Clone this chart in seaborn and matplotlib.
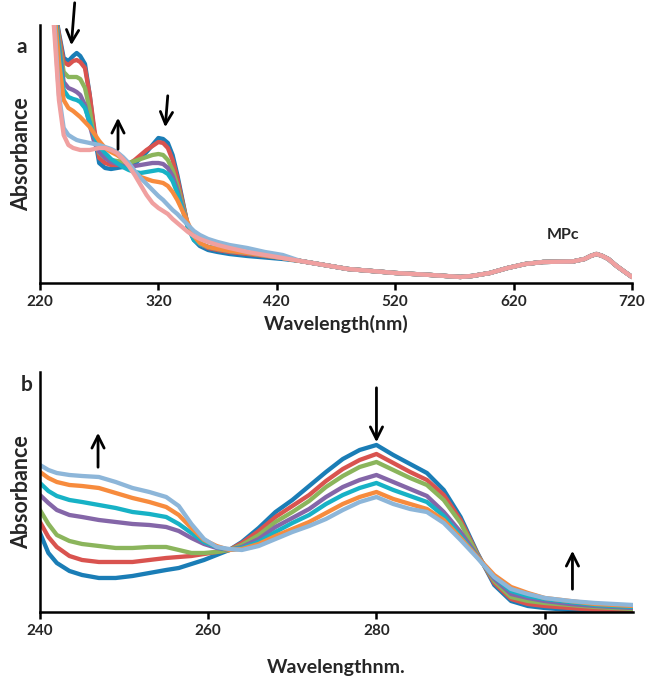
import matplotlib.pyplot as plt
import pandas as pd
import seaborn as sns

# ---- panel a: full spectra (absorbance, arbitrary units) ----
wl_a_head = [229, 232, 236, 240, 244, 248, 251, 254, 258, 262, 266, 270, 275, 280, 285,
             290, 295, 300, 305, 310, 315, 320, 324, 328, 332, 336, 340, 345, 350, 355,
             362, 370, 380, 395, 410, 425]
a_blue = [3.0, 2.78, 2.50, 2.25, 2.22, 2.27, 2.30, 2.27, 2.19, 1.88, 1.48, 1.20, 1.15, 1.14,
          1.15, 1.16, 1.16, 1.19, 1.25, 1.31, 1.38, 1.45, 1.44, 1.40, 1.28, 1.08, 0.85, 0.56,
          0.43, 0.37, 0.33, 0.31, 0.29, 0.27, 0.255, 0.24]
a_red = [3.0, 2.78, 2.48, 2.21, 2.18, 2.22, 2.23, 2.21, 2.15, 1.88, 1.53, 1.25, 1.20, 1.18,
         1.18, 1.18, 1.19, 1.23, 1.28, 1.33, 1.37, 1.41, 1.40, 1.35, 1.23, 1.05, 0.83, 0.57,
         0.44, 0.39, 0.35, 0.33, 0.31, 0.29, 0.27, 0.25]
a_green = [3.0, 2.78, 2.43, 2.11, 2.06, 2.06, 2.06, 2.04, 1.95, 1.73, 1.43, 1.30, 1.25, 1.23,
           1.22, 1.21, 1.20, 1.22, 1.24, 1.26, 1.28, 1.29, 1.28, 1.23, 1.13, 0.98, 0.80, 0.57,
           0.44, 0.39, 0.36, 0.34, 0.32, 0.30, 0.275, 0.25]
a_purple = [3.0, 2.78, 2.38, 2.01, 1.95, 1.93, 1.91, 1.88, 1.78, 1.58, 1.40, 1.31, 1.25, 1.21,
            1.19, 1.17, 1.16, 1.17, 1.18, 1.19, 1.20, 1.20, 1.19, 1.15, 1.07, 0.93, 0.77, 0.56,
            0.44, 0.39, 0.36, 0.34, 0.32, 0.30, 0.275, 0.25]
a_cyan = [3.0, 2.78, 2.33, 1.93, 1.86, 1.84, 1.83, 1.81, 1.75, 1.61, 1.46, 1.37, 1.30, 1.24,
          1.20, 1.16, 1.13, 1.11, 1.10, 1.11, 1.12, 1.13, 1.12, 1.09, 1.02, 0.90, 0.75, 0.55,
          0.43, 0.39, 0.36, 0.34, 0.32, 0.30, 0.275, 0.25]
a_orange = [3.0, 2.75, 2.23, 1.83, 1.75, 1.72, 1.69, 1.66, 1.61, 1.56, 1.49, 1.42, 1.35, 1.31,
            1.28, 1.24, 1.18, 1.11, 1.06, 1.04, 1.02, 1.01, 1.00, 0.97, 0.91, 0.83, 0.73, 0.60,
            0.47, 0.40, 0.36, 0.34, 0.32, 0.30, 0.275, 0.25]
a_lightblue = [3.0, 2.63, 1.88, 1.55, 1.48, 1.45, 1.43, 1.42, 1.41, 1.40, 1.39, 1.38, 1.36,
               1.34, 1.31, 1.26, 1.20, 1.12, 1.05, 0.99, 0.93, 0.87, 0.83, 0.78, 0.73, 0.69,
               0.64, 0.58, 0.52, 0.48, 0.44, 0.41, 0.38, 0.35, 0.31, 0.28]
a_pink = [3.0, 2.53, 1.83, 1.48, 1.38, 1.35, 1.34, 1.33, 1.33, 1.33, 1.34, 1.35, 1.35, 1.33,
          1.30, 1.24, 1.17, 1.08, 0.98, 0.88, 0.80, 0.75, 0.72, 0.69, 0.64, 0.60, 0.56, 0.51,
          0.47, 0.44, 0.41, 0.38, 0.35, 0.31, 0.28, 0.25]
# all scans overlap beyond ~430 nm
wl_a_tail = [440, 460, 480, 500, 520, 550, 575, 585, 600, 615, 630, 645, 670, 680, 685, 690,
             695, 700, 707, 714, 720]
a_tail = [0.22, 0.18, 0.14, 0.12, 0.10, 0.08, 0.06, 0.07, 0.10, 0.15, 0.19, 0.21, 0.215, 0.24,
          0.27, 0.29, 0.27, 0.24, 0.17, 0.11, 0.06]

# ---- panel b: zoom 240-310 nm ----
wl_b = [240, 241, 242, 243.5, 245, 247, 249, 251, 253, 255, 256.5, 258, 259.5, 261, 262.5,
        264, 266, 268, 270, 272, 274, 276, 278, 280, 282, 284, 286, 288, 290, 292, 294, 296,
        298, 300, 303, 306, 310.5]
b_blue = [0.79, 0.59, 0.49, 0.41, 0.37, 0.34, 0.34, 0.36, 0.39, 0.42, 0.44, 0.48, 0.52, 0.57,
          0.62, 0.70, 0.84, 1.00, 1.12, 1.26, 1.40, 1.53, 1.62, 1.67, 1.57, 1.48, 1.39, 1.22,
          0.95, 0.59, 0.27, 0.11, 0.06, 0.04, 0.02, 0.01, 0.01]
b_red = [0.90, 0.75, 0.65, 0.56, 0.52, 0.50, 0.50, 0.50, 0.52, 0.54, 0.55, 0.56, 0.58, 0.60,
         0.62, 0.69, 0.81, 0.95, 1.06, 1.17, 1.31, 1.43, 1.52, 1.58, 1.49, 1.40, 1.32, 1.17,
         0.92, 0.58, 0.29, 0.13, 0.08, 0.06, 0.04, 0.02, 0.01]
b_green = [1.02, 0.88, 0.77, 0.71, 0.68, 0.66, 0.64, 0.64, 0.65, 0.65, 0.62, 0.59, 0.59, 0.60,
           0.62, 0.67, 0.77, 0.90, 1.00, 1.11, 1.25, 1.36, 1.45, 1.50, 1.42, 1.34, 1.27, 1.12,
           0.89, 0.57, 0.31, 0.15, 0.11, 0.09, 0.07, 0.05, 0.03]
b_purple = [1.17, 1.09, 1.02, 0.97, 0.95, 0.92, 0.90, 0.88, 0.87, 0.85, 0.81, 0.74, 0.68, 0.64,
            0.62, 0.65, 0.73, 0.85, 0.94, 1.03, 1.15, 1.25, 1.32, 1.37, 1.30, 1.23, 1.16, 1.00,
            0.80, 0.56, 0.33, 0.18, 0.14, 0.11, 0.08, 0.06, 0.04]
b_cyan = [1.29, 1.21, 1.16, 1.12, 1.10, 1.07, 1.04, 1.00, 0.98, 0.95, 0.88, 0.79, 0.70, 0.65,
          0.62, 0.64, 0.70, 0.80, 0.89, 0.97, 1.08, 1.17, 1.24, 1.29, 1.22, 1.16, 1.10, 0.96,
          0.76, 0.55, 0.35, 0.21, 0.16, 0.13, 0.10, 0.07, 0.05]
b_orange = [1.40, 1.34, 1.30, 1.27, 1.26, 1.24, 1.19, 1.14, 1.10, 1.05, 0.97, 0.84, 0.72, 0.66,
            0.62, 0.63, 0.68, 0.76, 0.83, 0.90, 0.99, 1.08, 1.15, 1.20, 1.13, 1.08, 1.03, 0.92,
            0.74, 0.55, 0.37, 0.25, 0.19, 0.14, 0.11, 0.08, 0.06]
b_lightblue = [1.47, 1.42, 1.39, 1.37, 1.36, 1.35, 1.30, 1.24, 1.20, 1.15, 1.06, 0.88, 0.73,
               0.65, 0.63, 0.62, 0.66, 0.73, 0.80, 0.86, 0.93, 1.02, 1.10, 1.15, 1.08, 1.03,
               1.00, 0.89, 0.72, 0.54, 0.35, 0.23, 0.18, 0.14, 0.11, 0.09, 0.07]

colors = ["#1a7db6", "#d9534f", "#8bb55c", "#8466a8", "#17b2c6", "#f78b3d", "#8db6d9",
          "#f0a0a0"]
scans_a = [a_blue, a_red, a_green, a_purple, a_cyan, a_orange, a_lightblue, a_pink]
scans_b = [b_blue, b_red, b_green, b_purple, b_cyan, b_orange, b_lightblue]

rows_a = []
for i, head in enumerate(scans_a):
    for w, v in zip(wl_a_head + wl_a_tail, head + a_tail):
        rows_a.append({"scan": f"scan {i + 1}", "wavelength": w, "absorbance": v})
df_a = pd.DataFrame(rows_a)

rows_b = []
for i, vals in enumerate(scans_b):
    for w, v in zip(wl_b, vals):
        rows_b.append({"scan": f"scan {i + 1}", "wavelength": w, "absorbance": v})
df_b = pd.DataFrame(rows_b)

sns.set_style("white")
plt.rcParams["font.family"] = ["Lato", "DejaVu Sans"]
plt.rcParams["font.weight"] = "bold"

fig = plt.figure(figsize=(6.46, 6.76), dpi=100)
ax_a = fig.add_axes([0.0619, 0.5814, 0.9164, 0.3816])
ax_b = fig.add_axes([0.0619, 0.0947, 0.918, 0.355])

sns.lineplot(data=df_a, x="wavelength", y="absorbance", hue="scan", palette=colors,
             estimator=None, sort=False, linewidth=3.1, legend=False, ax=ax_a)
sns.lineplot(data=df_b, x="wavelength", y="absorbance", hue="scan", palette=colors[:7],
             estimator=None, sort=False, linewidth=3.1, legend=False, ax=ax_b)

for ax in (ax_a, ax_b):
    for line in ax.lines:
        line.set_solid_joinstyle("round")
        line.set_solid_capstyle("round")
    sns.despine(ax=ax)
    ax.spines["left"].set_linewidth(1.8)
    ax.spines["bottom"].set_linewidth(1.8)
    ax.spines["left"].set_color("black")
    ax.spines["bottom"].set_color("black")
    ax.set_yticks([])
    ax.tick_params(axis="x", direction="out", length=5, width=1.8, labelsize=11,
                   colors="black", labelcolor="#262626", bottom=True, pad=4)
    ax.set_ylabel("Absorbance", fontsize=15.5, fontweight="bold", labelpad=6,
                  color="#262626")

ax_a.set_xlim(220, 720)
ax_a.set_ylim(0, 2.58)
ax_a.set_xticks([220, 320, 420, 520, 620, 720])
ax_a.set_xlabel("Wavelength(nm)", fontsize=14, fontweight="bold", labelpad=4,
                color="#262626")

ax_b.set_xlim(240, 310.5)
ax_b.set_ylim(0, 2.40)
ax_b.set_xticks([240, 260, 280, 300])
ax_b.set_xlabel("Wavelengthnm.", fontsize=14, fontweight="bold", labelpad=15,
                color="#262626")

for ax in (ax_a, ax_b):
    for lab in ax.get_xticklabels():
        lab.set_fontweight("bold")

arrow = dict(arrowstyle="->", lw=2, color="black", mutation_scale=22)
ax_a.annotate("", xy=(246.3, 2.35), xytext=(249.5, 2.83), arrowprops=arrow,
              annotation_clip=False)
ax_a.annotate("", xy=(285.9, 1.68), xytext=(285.9, 1.31), arrowprops=arrow)
ax_a.annotate("", xy=(325.6, 1.53), xytext=(328.1, 1.90), arrowprops=arrow)
ax_a.text(662, 0.48, "MPc", fontsize=11.5, fontweight="bold", ha="center", va="center",
          color="#262626")

ax_b.annotate("", xy=(246.9, 1.82), xytext=(246.9, 1.42), arrowprops=arrow)
ax_b.annotate("", xy=(280, 1.67), xytext=(280, 2.27), arrowprops=arrow)
ax_b.annotate("", xy=(303.3, 0.64), xytext=(303.3, 0.20), arrowprops=arrow)

fig.text(22 / 646, 1 - 47 / 676, "a", fontsize=15, fontweight="bold", ha="center",
         va="center", color="#262626")
fig.text(27 / 646, 1 - 385 / 676, "b", fontsize=15, fontweight="bold", ha="center",
         va="center", color="#262626")

fig.savefig("out.png", dpi=100)
plt.close(fig)
